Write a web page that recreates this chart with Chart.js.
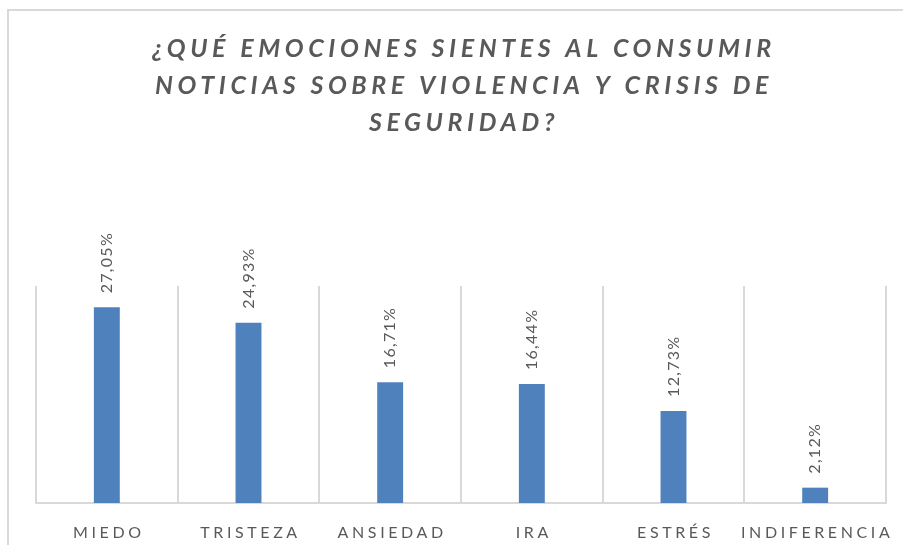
<!DOCTYPE html>
<html>
<head>
<meta charset="utf-8">
<script src="https://cdn.jsdelivr.net/npm/chart.js@4.4.0/dist/chart.umd.min.js"></script>
<style>
html,body{margin:0;padding:0;background:#fff;}
#wrap{width:903px;height:545px;position:relative;}
</style>
</head>
<body>
<div id="wrap"><canvas id="c" width="903" height="545"></canvas></div>
<script>
const titleLines = ['¿QUÉ EMOCIONES SIENTES AL CONSUMIR', 'NOTICIAS SOBRE VIOLENCIA Y CRISIS DE', 'SEGURIDAD?'];
const categories = ['MIEDO', 'TRISTEZA', 'ANSIEDAD', 'IRA', 'ESTRÉS', 'INDIFERENCIA'];
const values = [27.05, 24.93, 16.71, 16.44, 12.73, 2.12];
const valueLabels = ['27,05%', '24,93%', '16,71%', '16,44%', '12,73%', '2,12%'];

const textColor = '#595959';
const gridColor = '#d9d9d9';

const drawPlugin = {
  id: 'custom',
  afterDraw(chart) {
    const ctx = chart.ctx;
    const xs = chart.scales.x;
    // outer frame lines
    ctx.save();
    ctx.strokeStyle = gridColor;
    ctx.lineWidth = 2;
    ctx.beginPath();
    ctx.moveTo(8, 545); ctx.lineTo(8, 10); ctx.lineTo(903, 10);
    ctx.stroke();
    ctx.restore();

    // title
    ctx.save();
    ctx.fillStyle = textColor;
    ctx.font = 'italic bold 25px Lato';
    ctx.letterSpacing = '4.6px';
    ctx.textAlign = 'center';
    ctx.textBaseline = 'alphabetic';
    const cx = 464;
    titleLines.forEach((t, i) => ctx.fillText(t, cx, 57 + i * 37));
    ctx.restore();

    // x labels
    ctx.save();
    ctx.fillStyle = textColor;
    ctx.font = '16px Lato';
    ctx.letterSpacing = '3.6px';
    ctx.textAlign = 'center';
    ctx.textBaseline = 'alphabetic';
    categories.forEach((c, i) => {
      ctx.fillText(c, xs.getPixelForValue(i) + 2, 538);
    });
    ctx.restore();

    // data labels
    const meta = chart.getDatasetMeta(0);
    ctx.save();
    ctx.fillStyle = textColor;
    ctx.font = '16px Lato';
    ctx.letterSpacing = '1.3px';
    ctx.textAlign = 'left';
    ctx.textBaseline = 'middle';
    meta.data.forEach((bar, i) => {
      ctx.save();
      ctx.translate(bar.x, bar.y - 14);
      ctx.rotate(-Math.PI / 2);
      ctx.fillText(valueLabels[i], 0, 0);
      ctx.restore();
    });
    ctx.restore();
  }
};

new Chart(document.getElementById('c'), {
  type: 'bar',
  data: {
    labels: categories,
    datasets: [{
      data: values,
      backgroundColor: '#4f81bd',
      borderWidth: 0,
      categoryPercentage: 1,
      barPercentage: 0.183
    }]
  },
  options: {
    responsive: false,
    animation: false,
    layout: { padding: { top: 286, left: 36, right: 17, bottom: 42 } },
    plugins: { legend: { display: false }, title: { display: false }, tooltip: { enabled: false } },
    scales: {
      x: {
        ticks: { display: false },
        grid: { display: true, offset: true, color: gridColor, lineWidth: 2, drawTicks: false },
        border: { display: true, color: gridColor, width: 2 }
      },
      y: {
        display: false,
        min: 0,
        max: 30
      }
    }
  },
  plugins: [drawPlugin]
});
</script>
</body>
</html>
